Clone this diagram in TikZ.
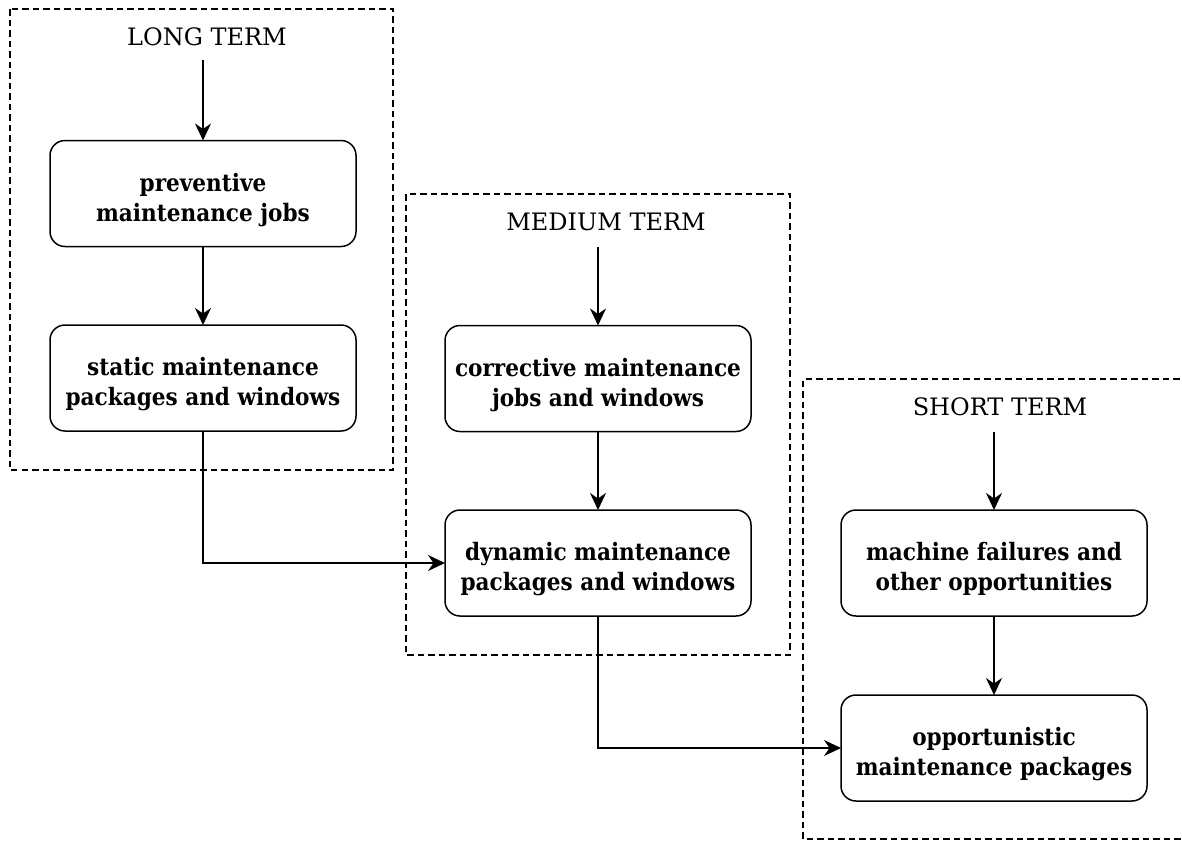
\documentclass[tikz,border=0pt]{standalone}
\usepackage{fontspec}
\setmainfont{DejaVu Serif}
\newfontfamily\boxfont{DejaVu Serif Condensed}
\usetikzlibrary{arrows.meta}
\newcommand\toprl{\rule{0pt}{31pt}}
\newcommand\botrl{\rule[-6pt]{0pt}{6pt}}
\begin{document}
\begin{tikzpicture}[x=1pt,y=-1pt,
  every node/.style={inner sep=0pt, outer sep=0pt},
  frame/.style={draw, line width=1.5pt, dash pattern=on 6.5pt off 4pt},
  proc/.style={draw, line width=1.5pt, rounded corners=15pt, minimum width=306pt, minimum height=106pt,
    align=center, font=\boxfont\fontsize{24}{30}\selectfont\bfseries},
  head/.style={font=\fontsize{24}{28}\selectfont},
  conn/.style={line width=1.5pt, -{Stealth[length=17pt,width=16pt,inset=5.5pt]}}
]
\useasboundingbox (0,0) rectangle (1182,841);
% frames
\draw[frame] (10,9) rectangle (393,470);
\draw[frame] (406,194) rectangle (790,655);
\draw[frame] (1190,379) -- (803,379) -- (803,839) -- (1190,839);
% headers
\node[head] (hl) at (207,37) {LONG TERM};
\node[head] (hm) at (606,222) {MEDIUM TERM};
\node[head] (hs) at (1000,407) {SHORT TERM};
\coordinate (cl) at (203,60);
\coordinate (cm) at (598,247);
\coordinate (cs) at (994,432);
% boxes
\node[proc] (pm) at (203,193.5) {\toprl preventive\\maintenance jobs\botrl};
\node[proc] (sm) at (203,378) {\toprl static maintenance\\packages and windows\botrl};
\node[proc] (cmj) at (598,378.5) {\toprl corrective maintenance\\jobs and windows\botrl};
\node[proc] (dm) at (598,563) {\toprl dynamic maintenance\\packages and windows\botrl};
\node[proc] (mf) at (994,563) {\toprl machine failures and\\other opportunities\botrl};
\node[proc] (om) at (994,748) {\toprl opportunistic\\maintenance packages\botrl};
% connectors
\draw[conn] (cl) -- (pm.north -| cl);
\draw[conn] (pm) -- (sm);
\draw[conn] (cm) -- (cmj.north -| cm);
\draw[conn] (cmj) -- (dm);
\draw[conn] (cs) -- (mf.north -| cs);
\draw[conn] (mf) -- (om);
\draw[conn] (sm.south) |- (dm.west);
\draw[conn] (dm.south) |- (om.west);
\end{tikzpicture}
\end{document}
